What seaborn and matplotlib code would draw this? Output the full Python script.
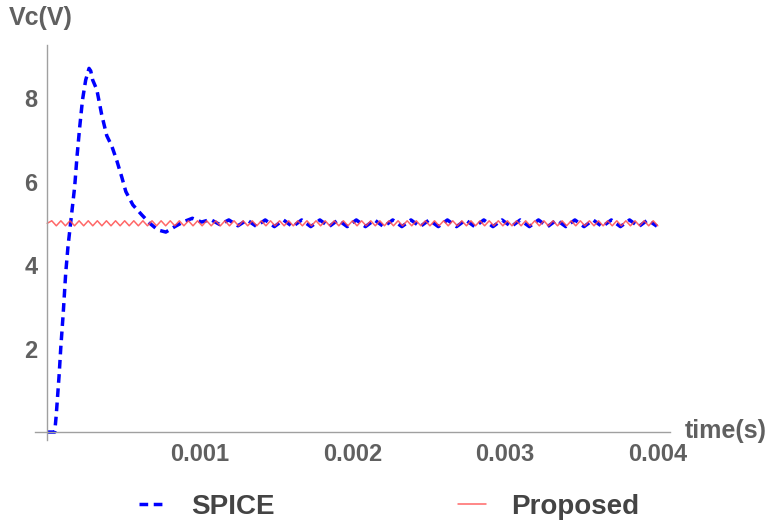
import numpy as np
import matplotlib
matplotlib.use("Agg")
import matplotlib.pyplot as plt
from matplotlib.ticker import MultipleLocator, FixedLocator, NullFormatter
import seaborn as sns

sns.set_style("white")
plt.rcParams['font.family'] = ['Liberation Sans', 'DejaVu Sans']

# -------------------------------
# Data
# -------------------------------
# SPICE: start-up transient (time in s, voltage in V)
spice_t_start = [0.0, 0.0000492, 0.000059, 0.0000689, 0.0000787, 0.0000885,
                 0.000105, 0.000121, 0.000136, 0.000158, 0.00018, 0.000195,
                 0.000213, 0.000231, 0.000252, 0.000274, 0.000285, 0.000298,
                 0.000325, 0.000357, 0.00039, 0.000423, 0.000456, 0.000489,
                 0.000515, 0.000561, 0.00062, 0.000672, 0.000725, 0.000777,
                 0.000836, 0.000895]
spice_v_start = [0.0, 0.0, 0.4, 0.9, 1.4, 2.0,
                 2.85, 3.8, 4.44, 5.16, 5.88, 6.59,
                 7.31, 7.95, 8.43, 8.71, 8.65, 8.43,
                 8.2, 7.6, 7.1, 6.85, 6.5, 6.1,
                 5.76, 5.44, 5.2, 5.0, 4.84, 4.79,
                 4.92, 5.04]

# SPICE: steady-state ripple, peaks and troughs from 0.000951 s to 0.003994 s
spice_ripple_span = (0.000951, 0.003994)
spice_ripple_v = [5.12, 5.03, 5.09, 4.97, 5.08, 4.94, 5.08, 4.93, 5.08, 4.92,
                  5.08, 4.92, 5.08, 4.92, 5.08, 4.92, 5.08, 4.92, 5.08, 4.92,
                  5.08, 4.92, 5.08, 4.92, 5.08, 4.92, 5.08, 4.92, 5.08, 4.92,
                  5.08, 4.92, 5.08, 4.92, 5.08, 4.92, 5.08, 4.92, 5.08, 4.92,
                  5.08, 4.92, 5.08, 4.92, 5.08, 4.92, 5.08, 4.92, 5.08, 4.92,
                  5.08, 4.93]

# Proposed: small ripple around 5 V, peaks and troughs from 0 s to 0.004 s
proposed_span = (0.0, 0.004)
proposed_v = [5.0, 5.06, 4.94, 5.06, 4.94, 5.06, 4.94, 5.06, 4.94, 5.06,
              4.94, 5.06, 4.94, 5.06, 4.94, 5.06, 4.94, 5.06, 4.94, 5.06,
              4.94, 5.06, 4.94, 5.06, 4.94, 5.06, 4.94, 5.06, 4.94, 5.06,
              4.94, 5.06, 4.94, 5.06, 4.94, 5.06, 4.94, 5.06, 4.94, 5.06,
              4.94, 5.06, 4.94, 5.06, 4.94, 5.06, 4.94, 5.06, 4.94, 5.06,
              4.94, 5.06, 4.94, 5.06, 4.94, 5.06, 4.94, 5.06, 4.94, 5.06,
              4.94, 5.06, 4.94, 5.06, 4.94, 5.06, 4.94, 5.06, 4.94, 5.06,
              4.94, 5.06, 4.94, 5.06, 4.94, 5.06, 4.94, 5.06, 4.94, 5.06,
              4.94, 5.06, 4.94, 5.06, 4.94, 5.06, 4.94, 5.06, 4.94, 5.06,
              4.94, 5.06, 4.94, 5.06, 4.94, 5.06, 4.94, 5.06, 4.94, 5.06,
              4.94, 5.06, 4.94, 5.06, 4.94, 5.06, 4.94, 5.06, 4.94, 5.06,
              4.94, 5.06, 4.94, 5.06, 4.94, 5.06, 4.94, 5.06, 4.94, 5.06,
              4.94, 5.06, 4.94, 5.06, 4.94, 5.06, 4.94, 5.06, 4.94, 5.06,
              4.94, 5.06, 4.94, 5.06, 4.94]

xticks = [0.001, 0.002, 0.003, 0.004]
xtick_labels = ["0.001", "0.002", "0.003", "0.004"]
yticks = [2, 4, 6, 8]
ytick_labels = ["2", "4", "6", "8"]

# sample times of the ripple readings
spice_t = spice_t_start + list(np.linspace(*spice_ripple_span, len(spice_ripple_v)))
spice_v = spice_v_start + spice_ripple_v
proposed_t = np.linspace(*proposed_span, len(proposed_v))

# -------------------------------
# Plot
# -------------------------------
fig = plt.figure(figsize=(7.68, 5.24), dpi=100)
ax = fig.add_axes([35 / 768, 84 / 524, 635 / 768, 395 / 524])

axis_gray = "#a0a0a0"
text_gray = "#606060"

sns.lineplot(x=spice_t, y=spice_v, ax=ax, sort=False, estimator=None,
             color="#0000ff", linewidth=2.5, label="SPICE")
sns.lineplot(x=proposed_t, y=proposed_v, ax=ax, sort=False, estimator=None,
             color="#ff4d4d", linewidth=1.1, alpha=0.85, label="Proposed")
ax.lines[0].set_dashes((2.5, 1.6))

ax.set_xlim(-0.00008, 0.00408)
ax.set_ylim(-0.19, 9.27)

# Mathematica-style axes crossing at the origin
for side in ["top", "right"]:
    ax.spines[side].set_visible(False)
ax.spines["left"].set_position(("data", 0))
ax.spines["bottom"].set_position(("data", 0))
for side in ["left", "bottom"]:
    ax.spines[side].set_color(axis_gray)
    ax.spines[side].set_linewidth(1.0)

ax.xaxis.set_major_locator(FixedLocator(xticks))
ax.set_xticklabels(xtick_labels)
ax.xaxis.set_minor_locator(MultipleLocator(0.0002))
ax.yaxis.set_major_locator(FixedLocator(yticks))
ax.set_yticklabels(ytick_labels)
ax.yaxis.set_minor_locator(MultipleLocator(0.5))
ax.xaxis.set_minor_formatter(NullFormatter())
ax.yaxis.set_minor_formatter(NullFormatter())

ax.tick_params(axis="both", which="major", direction="in", length=4,
               width=0.8, color=axis_gray, labelsize=17, labelcolor=text_gray)
ax.tick_params(axis="both", which="minor", direction="in", length=2.5,
               width=0.7, color=axis_gray)
ax.tick_params(axis="x", which="major", pad=8)
ax.tick_params(axis="y", which="major", pad=7)
for lab in ax.get_xticklabels() + ax.get_yticklabels():
    lab.set_fontweight("bold")

ax.set_xlabel("")
ax.set_ylabel("")
fig.text(9 / 768, 1 - 18 / 524, "Vc(V)", fontsize=18, fontweight="bold",
         color=text_gray, ha="left", va="center")
fig.text(685 / 768, 1 - 431 / 524, "time(s)", fontsize=18, fontweight="bold",
         color=text_gray, ha="left", va="center")

handles, labels = ax.get_legend_handles_labels()
ax.get_legend().remove()
leg = fig.legend(handles, labels, loc="center", bbox_to_anchor=(389 / 768, 17 / 524),
                 ncol=2, frameon=False, handlelength=1.0, columnspacing=6.6,
                 handletextpad=0.9, prop={"size": 20, "weight": "bold"})
for t in leg.get_texts():
    t.set_color("#444444")

fig.savefig("out.png", dpi=100)
